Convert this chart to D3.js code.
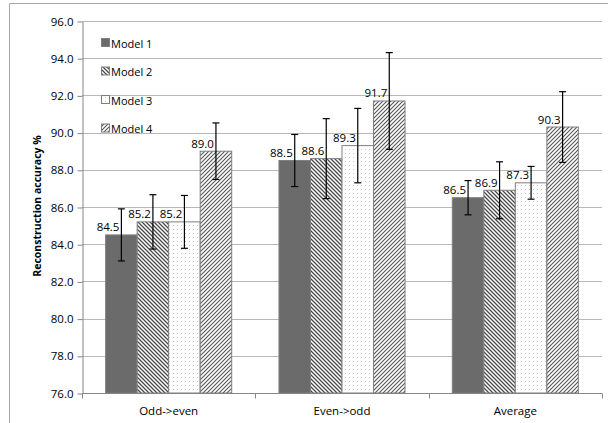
<!DOCTYPE html>
<html>
<head>
<meta charset="utf-8">
<script src="https://cdn.jsdelivr.net/npm/d3@7"></script>
<style>
  body { margin: 0; background: #fff; }
  svg { display: block; }
</style>
</head>
<body>
<div id="chart"></div>
<script>
var categories = ["Odd->even", "Even->odd", "Average"];
var models = ["Model 1", "Model 2", "Model 3", "Model 4"];
var values = {
  "Model 1": [84.5, 88.5, 86.5],
  "Model 2": [85.2, 88.6, 86.9],
  "Model 3": [85.2, 89.3, 87.3],
  "Model 4": [89.0, 91.7, 90.3]
};
var errors = {
  "Model 1": [1.4, 1.4, 0.92],
  "Model 2": [1.46, 2.15, 1.53],
  "Model 3": [1.42, 2.0, 0.88],
  "Model 4": [1.52, 2.6, 1.9]
};
var yTicks = [76, 78, 80, 82, 84, 86, 88, 90, 92, 94, 96];

var W = 608, H = 423;
var svg = d3.select('#chart').append('svg')
  .attr('width', W).attr('height', H);

// patterns
var defs = svg.append('defs');
var p2 = defs.append('pattern').attr('id', 'pat2').attr('patternUnits', 'userSpaceOnUse')
  .attr('width', 4).attr('height', 4);
p2.append('rect').attr('width', 4).attr('height', 4).attr('fill', '#fff');
p2.append('path').attr('d', 'M-1,-1 L5,5 M-1,3 L1,5 M3,-1 L5,1')
  .attr('stroke', '#4a4a4a').attr('stroke-width', 1.3);

var p4 = defs.append('pattern').attr('id', 'pat4').attr('patternUnits', 'userSpaceOnUse')
  .attr('width', 4).attr('height', 4);
p4.append('rect').attr('width', 4).attr('height', 4).attr('fill', '#fff');
p4.append('path').attr('d', 'M-1,5 L5,-1 M-1,1 L1,-1 M3,5 L5,3')
  .attr('stroke', '#555').attr('stroke-width', 1.1);

var p3 = defs.append('pattern').attr('id', 'pat3').attr('patternUnits', 'userSpaceOnUse')
  .attr('width', 4).attr('height', 4);
p3.append('rect').attr('width', 4).attr('height', 4).attr('fill', '#fff');
p3.append('rect').attr('x', 1).attr('y', 1).attr('width', 1).attr('height', 1).attr('fill', '#c8c8c8');

var fills = {
  "Model 1": '#6b6b6b',
  "Model 2": 'url(#pat2)',
  "Model 3": 'url(#pat3)',
  "Model 4": 'url(#pat4)'
};

// outer frame
svg.append('path').attr('d', 'M9.5,' + H + ' L9.5,3.5 L' + W + ',3.5')
  .attr('fill', 'none').attr('stroke', '#a6a6a6').attr('stroke-width', 1);

var x0 = d3.scaleBand().domain(categories).range([82, 602]);
var x1 = d3.scaleBand().domain(models).range([0, x0.bandwidth()])
  .paddingInner(0).paddingOuter(0.75);
var y = d3.scaleLinear().domain([76, 96]).range([393, 21]);

// gridlines
svg.append('g').selectAll('line').data(yTicks.slice(1)).join('line')
  .attr('x1', 82).attr('x2', 602)
  .attr('y1', function (d) { return Math.round(y(d)) + 0.5; })
  .attr('y2', function (d) { return Math.round(y(d)) + 0.5; })
  .attr('stroke', '#b8b8b8').attr('stroke-width', 1);

// y axis
var yAxis = svg.append('g').attr('transform', 'translate(82.5,0.5)')
  .call(d3.axisLeft(y).tickValues(yTicks).tickFormat(d3.format('.1f')).tickSize(5).tickSizeOuter(0));
yAxis.select('.domain').attr('stroke', '#868686');
yAxis.selectAll('.tick line').attr('stroke', '#868686');
yAxis.selectAll('.tick text').attr('font-family', 'Open Sans, sans-serif')
  .attr('font-size', '11.5px').attr('fill', '#000').attr('x', -9);

// x axis
var xAxisG = svg.append('g').attr('transform', 'translate(0,393.5)');
xAxisG.append('line').attr('x1', 82).attr('x2', 602).attr('stroke', '#868686');
xAxisG.selectAll('line.t').data(categories.concat(['end'])).join('line')
  .attr('class', 't')
  .attr('x1', function (d, i) { return Math.round(i < 3 ? x0(d) : x0.range()[1]) + 0.5; })
  .attr('x2', function (d, i) { return Math.round(i < 3 ? x0(d) : x0.range()[1]) + 0.5; })
  .attr('y1', 0).attr('y2', 5).attr('stroke', '#868686');
xAxisG.selectAll('text').data(categories).join('text')
  .attr('x', function (d) { return x0(d) + x0.bandwidth() / 2; })
  .attr('y', 21)
  .attr('text-anchor', 'middle')
  .attr('font-family', 'Open Sans, sans-serif').attr('font-size', '11.5px')
  .text(function (d) { return d; });

// y title
svg.append('text')
  .attr('transform', 'translate(41,206) rotate(-90)')
  .attr('text-anchor', 'middle')
  .attr('font-family', 'Open Sans, sans-serif').attr('font-size', '10.5px').attr('font-weight', 'bold')
  .text('Reconstruction accuracy %');

// bars
var rows = [];
models.forEach(function (m) {
  categories.forEach(function (c, i) {
    rows.push({ model: m, cat: c, v: values[m][i], e: errors[m][i] });
  });
});

var bars = svg.append('g');
bars.selectAll('rect').data(rows).join('rect')
  .attr('x', function (d) { return x0(d.cat) + x1(d.model); })
  .attr('y', function (d) { return y(d.v); })
  .attr('width', x1.bandwidth())
  .attr('height', function (d) { return y(76) - y(d.v); })
  .attr('fill', function (d) { return fills[d.model]; })
  .attr('stroke', '#7f7f7f').attr('stroke-width', 1);

// error bars
var eg = svg.append('g').attr('stroke', '#000').attr('stroke-width', 1.2);
rows.forEach(function (d) {
  var cx = x0(d.cat) + x1(d.model) + x1.bandwidth() / 2;
  var t = y(d.v + d.e), b = y(d.v - d.e);
  eg.append('line').attr('x1', cx).attr('x2', cx).attr('y1', t).attr('y2', b);
  eg.append('line').attr('x1', cx - 3.5).attr('x2', cx + 3.5).attr('y1', t).attr('y2', t);
  eg.append('line').attr('x1', cx - 3.5).attr('x2', cx + 3.5).attr('y1', b).attr('y2', b);
});

// value labels
svg.append('g').selectAll('text').data(rows).join('text')
  .attr('x', function (d) { return x0(d.cat) + x1(d.model) + x1.bandwidth() / 2 - 2; })
  .attr('y', function (d) { return y(d.v) - 3.5; })
  .attr('text-anchor', 'end')
  .attr('font-family', 'Open Sans, sans-serif').attr('font-size', '11.5px')
  .text(function (d) { return d3.format('.1f')(d.v); });

// legend
var lg = svg.append('g');
models.forEach(function (m, i) {
  var ly = 43 + i * 28.5;
  lg.append('rect').attr('x', 101.5).attr('y', ly - 4.5).attr('width', 8).attr('height', 8)
    .attr('fill', fills[m]).attr('stroke', '#7f7f7f').attr('stroke-width', 1);
  lg.append('text').attr('x', 111).attr('y', ly + 4.5)
    .attr('font-family', 'Open Sans, sans-serif').attr('font-size', '11px')
    .text(m);
});
</script>
</body>
</html>
